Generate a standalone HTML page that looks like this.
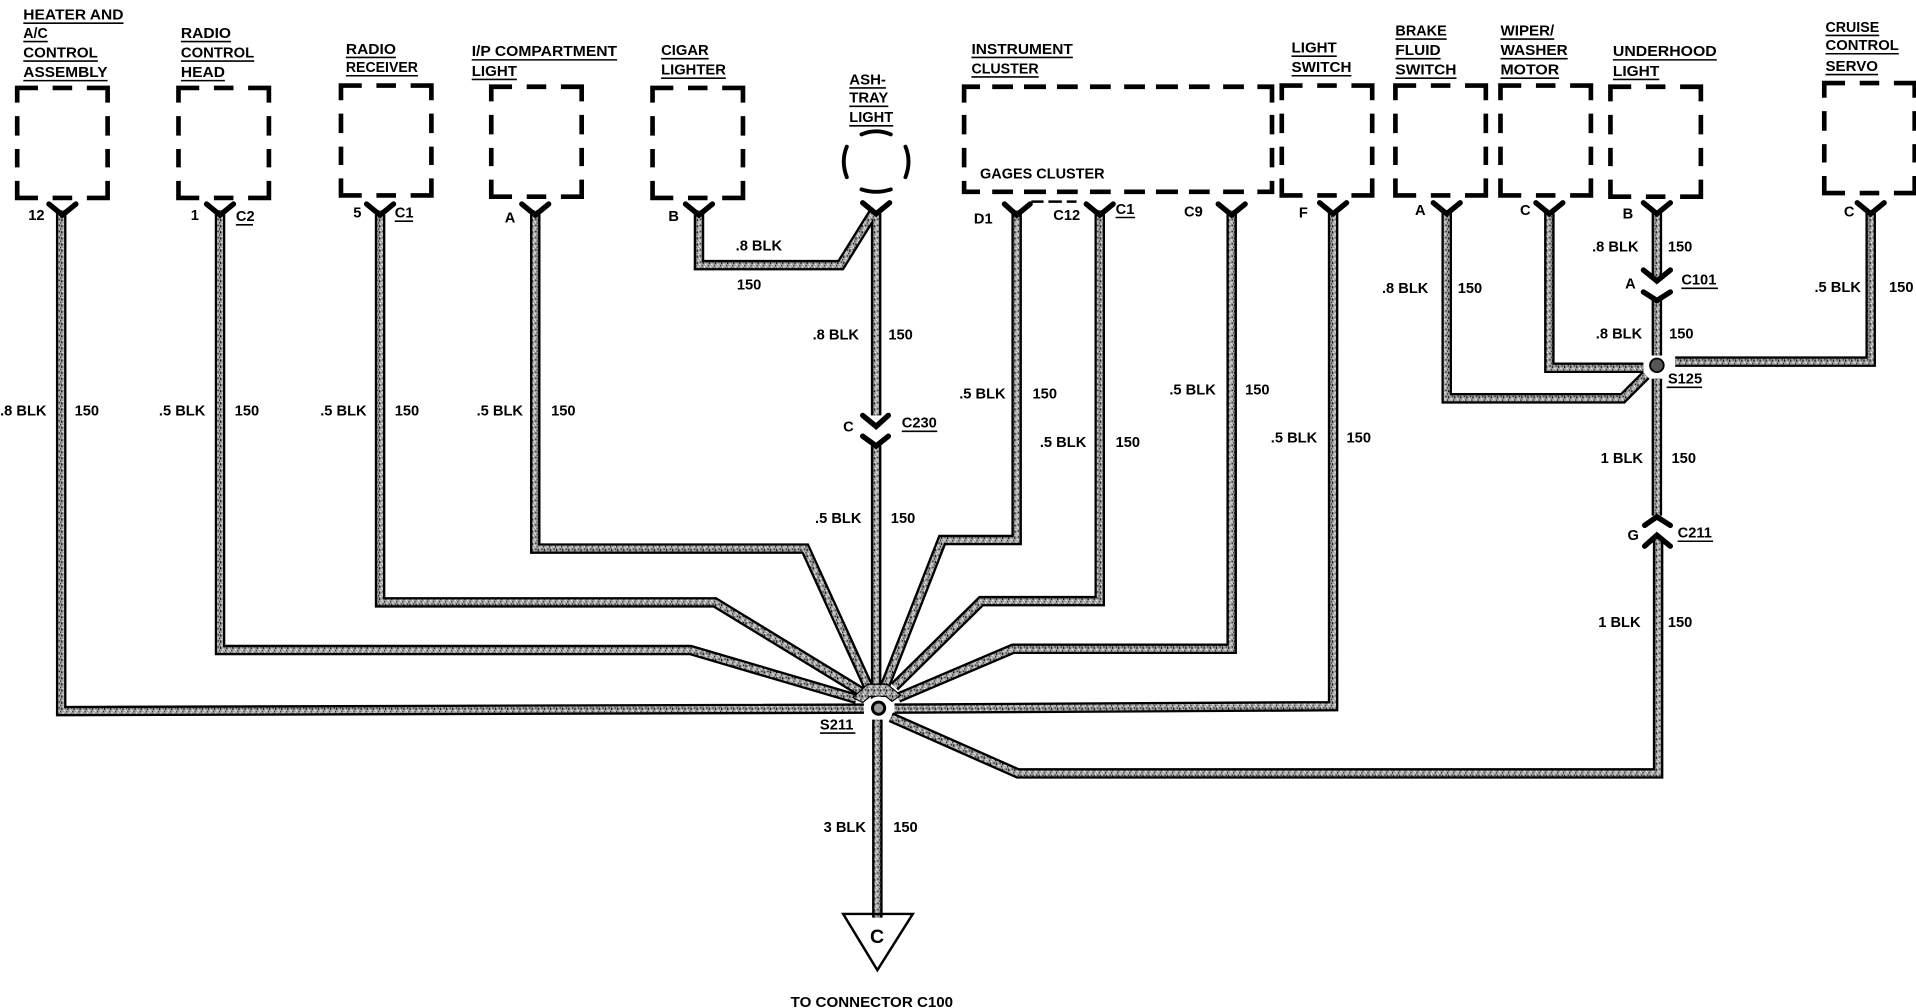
<!DOCTYPE html>
<html>
<head>
<meta charset="utf-8">
<title>Ground Distribution Schematic</title>
<style>
html,body{margin:0;padding:0;background:#fff;width:1916px;height:1008px;overflow:hidden}
svg{display:block}
text{font-family:"Liberation Sans",sans-serif;font-weight:bold;font-size:12px;fill:#000;letter-spacing:0}
.u{stroke:#000;stroke-width:1.3;fill:none}
.b{fill:none;stroke:#000;stroke-width:3.8;stroke-linejoin:miter}
.c{fill:none;stroke:#000;stroke-width:4.4;stroke-linecap:round;stroke-linejoin:miter}
</style>
</head>
<body>
<svg xmlns="http://www.w3.org/2000/svg" width="1916" height="1008" viewBox="0 0 1568 825">
<defs>
<pattern id="n" patternUnits="userSpaceOnUse" width="5" height="5">
<rect width="5" height="5" fill="#a0a0a0"/>
<rect x="0" y="0" width="1" height="1" fill="#000"/>
<rect x="2" y="1" width="1" height="1" fill="#fff"/>
<rect x="4" y="2" width="1" height="1" fill="#111"/>
<rect x="1" y="3" width="1" height="1" fill="#fff"/>
<rect x="3" y="4" width="1" height="1" fill="#111"/>
<rect x="3" y="2" width="1" height="1" fill="#eee"/>
<rect x="0" y="4" width="1" height="1" fill="#333"/>
</pattern>
<path id="bx" d="M0,12V0H17M29,0H45M57,0H74V12M74,23V39M74,50V65M74,76V90H57M45,90H29M17,90H0V76M0,65V50M0,39V23"/>
<path id="w" fill="none" d="
M50,172V582L707,580
M180,172V532H565L701,572
M311,172V493H585L706,567
M438,172V449H659L711,563
M572,172V217H688L716,172
M717,172V340
M717,364V572
M832,172V442H771L724,562
M900,172V492H803L732,562
M1008,172V531H829L735,571
M1091,172V578L732,580
M1357,440V633H833L729,587
M718,589V751
M1184,172V326H1328L1347,307
M1268,172V301H1345
M1531,172V296H1371
M1356,172V228
M1356,245V291
M1356,310V422"/>
</defs>

<!-- component boxes -->
<g class="b">
<use href="#bx" x="14" y="72"/>
<use href="#bx" x="146" y="72"/>
<use href="#bx" x="279" y="70"/>
<use href="#bx" x="402" y="71"/>
<use href="#bx" x="534" y="72"/>
<use href="#bx" x="1049" y="70"/>
<use href="#bx" x="1142" y="70"/>
<use href="#bx" x="1228" y="70"/>
<use href="#bx" x="1318" y="71"/>
<use href="#bx" x="1493" y="68"/>
<!-- instrument cluster -->
<path d="M789,84V71H802M812,71H829M838,71H856M865,71H882M892,71H909M920,71H937M946,71H964M973,71H990M1001,71H1018M1029,71H1041V84M1041,94V110M1041,121V137M1041,148V157H1029M1018,157H1001M990,157H973M964,157H946M937,157H920M909,157H892M882,157H865M856,157H838M829,157H812M802,157H789V148M789,137V121M789,110V94"/>
</g>
<path d="M844,165H854M858,165H869M873,165H881" stroke="#000" stroke-width="2" fill="none"/>

<!-- ashtray light -->
<g class="b" stroke-linecap="round" style="stroke-width:3.2">
<path d="M705,110Q717,105 729,110"/>
<path d="M693,120Q688,132 693,145"/>
<path d="M741,120Q746,132 741,145"/>
<path d="M705,155Q717,159 729,155"/>
</g>

<!-- wires -->
<use href="#w" stroke="#000" stroke-width="8.6" fill="none"/>
<use href="#w" stroke="url(#n)" stroke-width="4.8" fill="none"/>

<!-- connector Ys -->
<g class="c">
<path d="M40,167L51,176L62,167"/>
<path d="M169,167L180,176L191,167"/>
<path d="M300,167L311,176L322,167"/>
<path d="M427,167L438,176L449,167"/>
<path d="M561,167L572,176L583,167"/>
<path d="M706,166L717,175L728,166"/>
<path d="M822,167L832,176L843,167"/>
<path d="M889,167L900,176L911,167"/>
<path d="M997,167L1008,176L1019,167"/>
<path d="M1080,166L1091,175L1102,166"/>
<path d="M1173,166L1184,175L1195,166"/>
<path d="M1257,166L1268,175L1279,166"/>
<path d="M1345,166L1356,175L1367,166"/>
<path d="M1520,166L1531,175L1542,166"/>
<path d="M706,340L717,349L727,340"/>
<path d="M706,357L717,365L727,357"/>
<path d="M1345,221L1356,230L1367,221"/>
<path d="M1345,239L1356,246L1367,239"/>
<path d="M1346,430L1356,423L1367,430"/>
<path d="M1346,447L1356,438L1367,447"/>
</g>

<!-- splices -->
<path d="M698,571L710,560H726L737,569L730,574L725,570H712L706,575Z" fill="url(#n)" stroke="#000" stroke-width="1"/>
<circle cx="719" cy="579.6" r="9.5" fill="#fff"/>
<circle cx="719" cy="579.6" r="5" fill="#999" stroke="#000" stroke-width="2.4"/>
<circle cx="1356" cy="299" r="5.6" fill="#555" stroke="#000" stroke-width="1.5"/>

<!-- ground triangle -->
<path d="M690,748H747L718,794Z" fill="none" stroke="#000" stroke-width="2"/>
<text x="712" y="772" style="font-size:16px">C</text>
<text x="647" y="824" textLength="133" lengthAdjust="spacingAndGlyphs">TO CONNECTOR C100</text>

<!-- component titles -->
<g>
<text x="19" y="16" textLength="82" lengthAdjust="spacingAndGlyphs">HEATER AND</text><path class="u" d="M19,19H101"/>
<text x="19" y="31" textLength="20" lengthAdjust="spacingAndGlyphs">A/C</text><path class="u" d="M19,34H39"/>
<text x="19" y="47" textLength="61" lengthAdjust="spacingAndGlyphs">CONTROL</text><path class="u" d="M19,50H80"/>
<text x="19" y="63" textLength="69" lengthAdjust="spacingAndGlyphs">ASSEMBLY</text><path class="u" d="M19,66H88"/>

<text x="148" y="31" textLength="41" lengthAdjust="spacingAndGlyphs">RADIO</text><path class="u" d="M148,34H189"/>
<text x="148" y="47" textLength="60" lengthAdjust="spacingAndGlyphs">CONTROL</text><path class="u" d="M148,50H208"/>
<text x="148" y="63" textLength="36" lengthAdjust="spacingAndGlyphs">HEAD</text><path class="u" d="M148,66H184"/>

<text x="283" y="44" textLength="41" lengthAdjust="spacingAndGlyphs">RADIO</text><path class="u" d="M283,47H324"/>
<text x="283" y="59" textLength="59" lengthAdjust="spacingAndGlyphs">RECEIVER</text><path class="u" d="M283,62H342"/>

<text x="386" y="46" textLength="119" lengthAdjust="spacingAndGlyphs">I/P COMPARTMENT</text><path class="u" d="M386,49H505"/>
<text x="386" y="62" textLength="37" lengthAdjust="spacingAndGlyphs">LIGHT</text><path class="u" d="M386,65H423"/>

<text x="541" y="45" textLength="39" lengthAdjust="spacingAndGlyphs">CIGAR</text><path class="u" d="M541,48H580"/>
<text x="541" y="61" textLength="53" lengthAdjust="spacingAndGlyphs">LIGHTER</text><path class="u" d="M541,64H594"/>

<text x="695" y="69" textLength="30" lengthAdjust="spacingAndGlyphs">ASH-</text><path class="u" d="M695,72H725"/>
<text x="695" y="84" textLength="32" lengthAdjust="spacingAndGlyphs">TRAY</text><path class="u" d="M695,87H727"/>
<text x="695" y="100" textLength="36" lengthAdjust="spacingAndGlyphs">LIGHT</text><path class="u" d="M695,103H731"/>

<text x="795" y="44" textLength="83" lengthAdjust="spacingAndGlyphs">INSTRUMENT</text><path class="u" d="M795,47H878"/>
<text x="795" y="60" textLength="55" lengthAdjust="spacingAndGlyphs">CLUSTER</text><path class="u" d="M795,63H850"/>
<text x="802" y="146" textLength="102" lengthAdjust="spacingAndGlyphs">GAGES CLUSTER</text>

<text x="1057" y="43" textLength="37" lengthAdjust="spacingAndGlyphs">LIGHT</text><path class="u" d="M1057,46H1094"/>
<text x="1057" y="59" textLength="49" lengthAdjust="spacingAndGlyphs">SWITCH</text><path class="u" d="M1057,62H1106"/>

<text x="1142" y="29" textLength="42" lengthAdjust="spacingAndGlyphs">BRAKE</text><path class="u" d="M1142,32H1184"/>
<text x="1142" y="45" textLength="37" lengthAdjust="spacingAndGlyphs">FLUID</text><path class="u" d="M1142,48H1179"/>
<text x="1142" y="61" textLength="50" lengthAdjust="spacingAndGlyphs">SWITCH</text><path class="u" d="M1142,64H1192"/>

<text x="1228" y="29" textLength="44" lengthAdjust="spacingAndGlyphs">WIPER/</text><path class="u" d="M1228,32H1272"/>
<text x="1228" y="45" textLength="55" lengthAdjust="spacingAndGlyphs">WASHER</text><path class="u" d="M1228,48H1283"/>
<text x="1228" y="61" textLength="48" lengthAdjust="spacingAndGlyphs">MOTOR</text><path class="u" d="M1228,64H1276"/>

<text x="1320" y="46" textLength="85" lengthAdjust="spacingAndGlyphs">UNDERHOOD</text><path class="u" d="M1320,49H1405"/>
<text x="1320" y="62" textLength="38" lengthAdjust="spacingAndGlyphs">LIGHT</text><path class="u" d="M1320,65H1358"/>

<text x="1494" y="26" textLength="44" lengthAdjust="spacingAndGlyphs">CRUISE</text><path class="u" d="M1494,29H1538"/>
<text x="1494" y="41" textLength="60" lengthAdjust="spacingAndGlyphs">CONTROL</text><path class="u" d="M1494,44H1554"/>
<text x="1494" y="58" textLength="43" lengthAdjust="spacingAndGlyphs">SERVO</text><path class="u" d="M1494,61H1537"/>
</g>

<!-- pin labels -->
<g>
<text x="23" y="180">12</text>
<text x="156" y="180">1</text>
<text x="193" y="181">C2</text><path class="u" d="M193,184H207"/>
<text x="289" y="178">5</text>
<text x="323" y="178">C1</text><path class="u" d="M323,181H338"/>
<text x="413" y="182">A</text>
<text x="547" y="181">B</text>
<text x="797" y="183">D1</text>
<text x="862" y="180">C12</text>
<text x="913" y="175">C1</text><path class="u" d="M913,178H929"/>
<text x="969" y="177">C9</text>
<text x="1063" y="178">F</text>
<text x="1158" y="176">A</text>
<text x="1244" y="176">C</text>
<text x="1328" y="179">B</text>
<text x="1509" y="177">C</text>
<text x="690" y="353">C</text>
<text x="738" y="350">C230</text><path class="u" d="M738,353H767"/>
<text x="1330" y="236">A</text>
<text x="1376" y="233">C101</text><path class="u" d="M1376,236H1406"/>
<text x="1365" y="314">S125</text><path class="u" d="M1364,317H1393"/>
<text x="1332" y="442">G</text>
<text x="1373" y="440">C211</text><path class="u" d="M1373,443H1402"/>
<text x="671" y="597">S211</text><path class="u" d="M671,600H700"/>
</g>

<!-- wire labels -->
<g>
<text x="0" y="340">.8 BLK</text><text x="61" y="340">150</text>
<text x="130" y="340">.5 BLK</text><text x="192" y="340">150</text>
<text x="262" y="340">.5 BLK</text><text x="323" y="340">150</text>
<text x="390" y="340">.5 BLK</text><text x="451" y="340">150</text>
<text x="602" y="205">.8 BLK</text><text x="603" y="237">150</text>
<text x="665" y="278">.8 BLK</text><text x="727" y="278">150</text>
<text x="667" y="428">.5 BLK</text><text x="729" y="428">150</text>
<text x="785" y="326">.5 BLK</text><text x="845" y="326">150</text>
<text x="851" y="366">.5 BLK</text><text x="913" y="366">150</text>
<text x="957" y="323">.5 BLK</text><text x="1019" y="323">150</text>
<text x="1040" y="362">.5 BLK</text><text x="1102" y="362">150</text>
<text x="1131" y="240">.8 BLK</text><text x="1193" y="240">150</text>
<text x="1303" y="206">.8 BLK</text><text x="1365" y="206">150</text>
<text x="1306" y="277">.8 BLK</text><text x="1366" y="277">150</text>
<text x="1485" y="239">.5 BLK</text><text x="1546" y="239">150</text>
<text x="1310" y="379">1 BLK</text><text x="1368" y="379">150</text>
<text x="1308" y="513">1 BLK</text><text x="1365" y="513">150</text>
<text x="674" y="681">3 BLK</text><text x="731" y="681">150</text>
</g>
</svg>
</body>
</html>
